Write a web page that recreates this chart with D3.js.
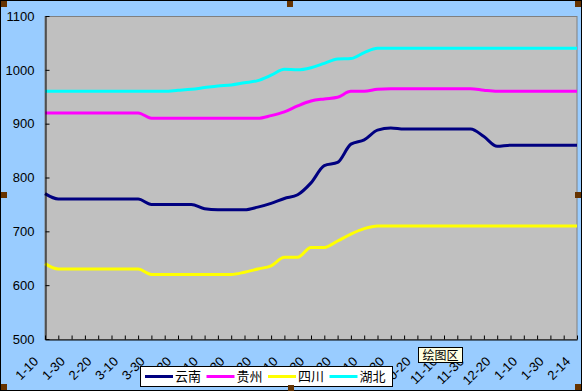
<!DOCTYPE html>
<html>
<head>
<meta charset="utf-8">
<script src="https://cdn.jsdelivr.net/npm/d3@7/dist/d3.min.js"></script>
<style>
  html, body { margin: 0; padding: 0; background: #fff; }
  svg { display: block; }
</style>
</head>
<body>
<svg id="chart" width="582" height="391"></svg>
<script>
// ---- data ----
const categories = [
  "1-10","1-20","1-30","2-10","2-20","3-1","3-10","3-20","3-30","4-10",
  "4-20","4-30","5-10","5-20","5-30","6-10","6-20","6-30","7-10","7-20",
  "7-30","8-10","8-20","8-30","9-10","9-20","9-30","10-10","10-20","10-30",
  "11-10","11-20","11-30","12-10","12-20","12-30","1-10","1-20","1-30","2-7","2-14"
];
const seriesNames = ["云南", "贵州", "四川", "湖北"];
const yunnan = [
  770,760,760,760,760,760,760,760,750,750,
  750,750,742,740,740,740,745,752,761,768,
  790,822,828,862,870,888,892,890,890,890,
  890,890,890,876,858,860,860,860,860,860,860
];
const guizhou = [
  920,920,920,920,920,920,920,920,910,910,
  910,910,910,910,910,910,910,915,922,933,
  942,946,949,960,960,964,965,965,965,965,
  965,965,965,962,960,960,960,960,960,960,960
];
const sichuan = [
  640,630,630,630,630,630,630,630,620,620,
  620,620,620,620,620,624,630,636,652,652,
  670,670,682,695,705,710,710,710,710,710,
  710,710,710,710,710,710,710,710,710,710,710
];
const hubei = [
  960,960,960,960,960,960,960,960,960,960,
  962,964,967,970,972,976,980,990,1001,1000,
  1004,1012,1020,1021,1032,1040,1040,1040,1040,1040,
  1040,1040,1040,1040,1040,1040,1040,1040,1040,1040,1040
];
const yTicks = [500, 600, 700, 800, 900, 1000, 1100];
const seriesColors = ["#000080", "#FF00FF", "#FFFF00", "#00FFFF"];

// ---- layout ----
const W = 582, H = 391;
const plot = { left: 45, right: 577, top: 16, bottom: 339 };
const svg = d3.select("#chart");

svg.append("rect").attr("x", 0.5).attr("y", 0.5).attr("width", W - 1).attr("height", H - 1)
  .attr("fill", "#99CCFF").attr("stroke", "#000").attr("stroke-width", 1);

svg.append("rect").attr("x", plot.left).attr("y", plot.top + 0.5)
  .attr("width", plot.right - plot.left).attr("height", plot.bottom - plot.top)
  .attr("fill", "#C0C0C0").attr("stroke", "#808080").attr("stroke-width", 1);

const x = d3.scalePoint().domain(d3.range(categories.length)).range([plot.left, plot.right]);
const y = d3.scaleLinear().domain([500, 1100]).range([plot.bottom, plot.top]);

const series = [yunnan, guizhou, sichuan, hubei];
const line = d3.line().x((d, i) => x(i)).y(d => y(d)).curve(d3.curveMonotoneX);
series.forEach((s, k) => {
  svg.append("path").datum(s).attr("d", line)
    .attr("fill", "none").attr("stroke", seriesColors[k]).attr("stroke-width", 3)
    .attr("stroke-linejoin", "round");
});

const yAxis = d3.axisLeft(y).tickValues(yTicks).tickFormat(d3.format("d"))
  .tickSizeInner(-4).tickSizeOuter(0).tickPadding(11);
const gy = svg.append("g").attr("transform", `translate(${plot.left + 0.5},0)`).call(yAxis);
gy.select(".domain").attr("stroke", "#000");
gy.selectAll(".tick line").attr("stroke", "#000");
gy.selectAll("text").attr("font-family", "Liberation Sans, Arial, sans-serif")
  .attr("font-size", 13).attr("fill", "#000");

const xAxis = d3.axisBottom(x).tickSizeInner(-4).tickSizeOuter(0).tickFormat(() => "");
const gx = svg.append("g").attr("transform", `translate(0,${plot.bottom + 0.5})`).call(xAxis);
gx.select(".domain").attr("stroke", "#000");
gx.selectAll(".tick line").attr("stroke", "#000");

svg.append("g").selectAll("text")
  .data(categories.map((c, i) => ({ c, i })).filter(d => d.i % 2 === 0))
  .join("text")
  .attr("transform", d => `translate(${x(d.i) - 9},${plot.bottom + 20}) rotate(-45)`)
  .attr("text-anchor", "end").attr("dy", "0.35em")
  .attr("font-family", "Liberation Sans, Arial, sans-serif").attr("font-size", 13)
  .attr("fill", "#000")
  .text(d => d.c);

const lg = svg.append("g");
lg.append("rect").attr("x", 140.5).attr("y", 366.5).attr("width", 252).attr("height", 20)
  .attr("fill", "#fff").attr("stroke", "#000");
seriesNames.forEach((n, k) => {
  const x0 = 145 + k * 61.5;
  lg.append("line").attr("x1", x0).attr("x2", x0 + 28).attr("y1", 376.5).attr("y2", 376.5)
    .attr("stroke", seriesColors[k]).attr("stroke-width", 3);
  lg.append("text").attr("x", x0 + 30).attr("y", 376.5).attr("dy", "0.36em")
    .attr("font-family", "Noto Sans CJK SC, sans-serif").attr("font-size", 13)
    .attr("fill", "#000").text(n);
});

const tip = svg.append("g");
tip.append("rect").attr("x", 418.5).attr("y", 347.5).attr("width", 44).attr("height", 15)
  .attr("fill", "#FFFFE1").attr("stroke", "#000");
tip.append("text").attr("x", 440.5).attr("y", 355.5).attr("dy", "0.36em").attr("text-anchor", "middle")
  .attr("font-family", "Noto Sans CJK SC, sans-serif").attr("font-size", 12).attr("fill", "#000")
  .text("绘图区");

const handles = [[1,1],[287,1],[575,1],[1,192],[575,192],[1,384],[288,385],[575,384]];
svg.append("g").selectAll("rect").data(handles).join("rect")
  .attr("x", d => d[0]).attr("y", d => d[1]).attr("width", 6).attr("height", 6)
  .attr("fill", "#663300");
</script>
</body>
</html>
